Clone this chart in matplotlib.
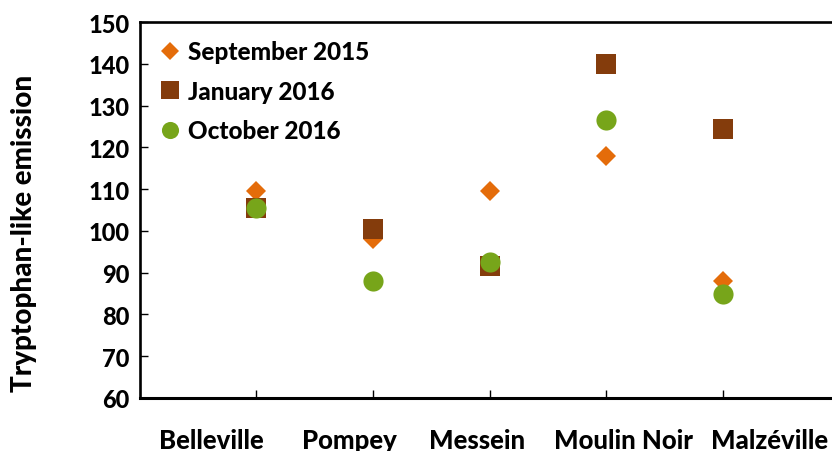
import matplotlib
matplotlib.use("Agg")
import matplotlib.pyplot as plt
import matplotlib.transforms as mtransforms

plt.rcParams['font.family'] = ['Lato', 'DejaVu Sans']
plt.rcParams['font.weight'] = 'black'

sites = ['Belleville', 'Pompey', 'Messein', 'Moulin Noir', 'Malzéville']
sep_2015 = [109.5, 98.0, 109.5, 118.0, 88.0]
jan_2016 = [105.5, 100.5, 91.5, 140.0, 124.5]
oct_2016 = [105.5, 88.0, 92.5, 126.5, 85.0]

# site names sit under the axis a little off the tick positions
label_x = [0.62, 1.80, 2.89, 4.15, 5.40]

x = range(1, len(sites) + 1)

fig = plt.figure(figsize=(8.32, 4.52), dpi=100)
ax = fig.add_axes([139.5 / 832, 53 / 452, 700 / 832, 376 / 452])

ax.plot(x, sep_2015, 'D', color='#E46C0A', markersize=10.5, markeredgewidth=0,
        label='September 2015')
ax.plot(x, jan_2016, 's', color='#843C0C', markersize=14.5, markeredgewidth=0,
        label='January 2016')
ax.plot(x, oct_2016, 'o', color='#77A51A', markersize=14.5, markeredgewidth=0,
        label='October 2016')

ax.set_xlim(0, 6)
ax.set_ylim(60, 150)
ax.set_yticks(range(60, 151, 10))
ax.set_xticks(list(x))
ax.set_xticklabels([])
ax.tick_params(axis='both', direction='in', length=6, width=1, color='black')
ax.tick_params(axis='y', labelsize=17, pad=7)

for s in ['left', 'bottom', 'top', 'right']:
    ax.spines[s].set_linewidth(1.9)
ax.spines['bottom'].set_linewidth(2.2)

trans = mtransforms.blended_transform_factory(ax.transData, fig.transFigure)
for lx, name in zip(label_x, sites):
    ax.text(lx, 3 / 452, name, transform=trans, ha='center', va='baseline',
            fontsize=18.5, fontweight='black', clip_on=False)

ax.set_ylabel('Tryptophan-like emission', fontsize=20, fontweight='black')
ax.yaxis.set_label_coords(-0.146, 0.44)

ax.legend(loc='upper left', bbox_to_anchor=(0.0, 1.0), frameon=False,
          prop={'size': 17.5, 'weight': 'black'}, handlelength=1.0,
          handletextpad=0.25, labelspacing=0.68, borderaxespad=0.35,
          markerscale=0.85)

fig.savefig('out.png', dpi=100)
